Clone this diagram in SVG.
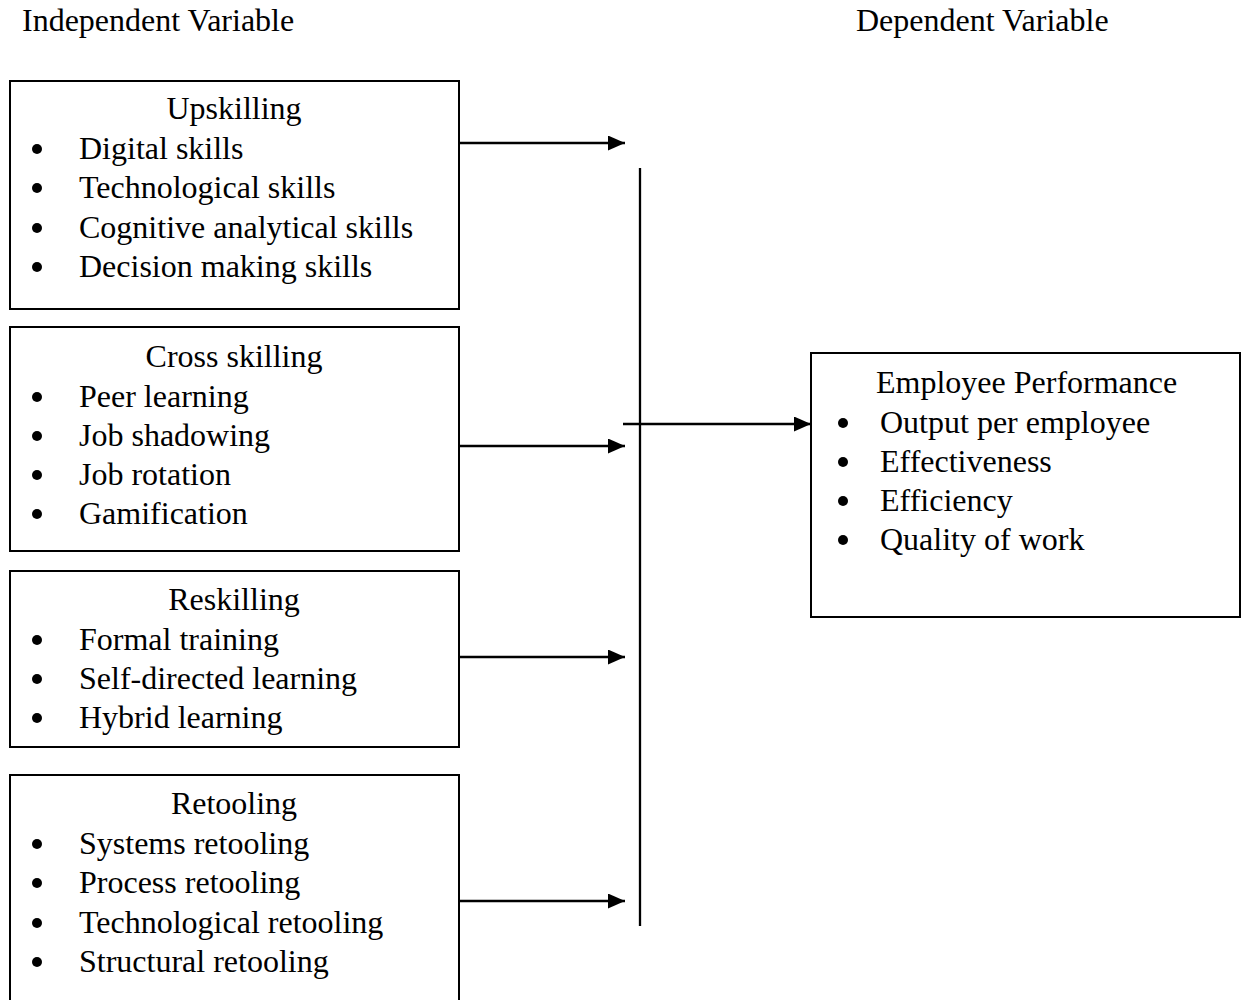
<svg xmlns="http://www.w3.org/2000/svg" width="1247" height="1000" viewBox="0 0 1247 1000">
<defs>
<style>
text{font-family:"Liberation Serif","Times New Roman",serif;font-size:32px;fill:#000}
.t{text-anchor:middle}
.box{fill:#fff;stroke:#000;stroke-width:2}
.ln{stroke:#000;stroke-width:2.3;fill:none}
</style>
<marker id="ah" markerWidth="17" markerHeight="15" refX="17" refY="7.5" orient="auto" markerUnits="userSpaceOnUse">
<path d="M0,0 L17,7.5 L0,15 Z" fill="#000"/>
</marker>
</defs>
<rect width="1247" height="1000" fill="#fff"/>
<text x="22" y="31">Independent Variable</text>
<text x="856" y="31">Dependent Variable</text>
<g id="upskilling">
<rect class="box" x="10" y="81" width="449" height="228"/>
<text class="t" x="234" y="119">Upskilling</text>
<circle cx="37" cy="149" r="5"/><text x="79" y="159">Digital skills</text>
<circle cx="37" cy="188" r="5"/><text x="79" y="198">Technological skills</text>
<circle cx="37" cy="228" r="5"/><text x="79" y="238">Cognitive analytical skills</text>
<circle cx="37" cy="267" r="5"/><text x="79" y="277">Decision making skills</text>
</g>
<g id="crossskilling">
<rect class="box" x="10" y="327" width="449" height="224"/>
<text class="t" x="234" y="367">Cross skilling</text>
<circle cx="37" cy="397" r="5"/><text x="79" y="407">Peer learning</text>
<circle cx="37" cy="436" r="5"/><text x="79" y="446">Job shadowing</text>
<circle cx="37" cy="475" r="5"/><text x="79" y="485">Job rotation</text>
<circle cx="37" cy="514" r="5"/><text x="79" y="524">Gamification</text>
</g>
<g id="reskilling">
<rect class="box" x="10" y="571" width="449" height="176"/>
<text class="t" x="234" y="610">Reskilling</text>
<circle cx="37" cy="640" r="5"/><text x="79" y="650">Formal training</text>
<circle cx="37" cy="679" r="5"/><text x="79" y="689">Self-directed learning</text>
<circle cx="37" cy="718" r="5"/><text x="79" y="728">Hybrid learning</text>
</g>
<g id="retooling">
<rect class="box" x="10" y="775" width="449" height="240"/>
<text class="t" x="234" y="814">Retooling</text>
<circle cx="37" cy="844" r="5"/><text x="79" y="854">Systems retooling</text>
<circle cx="37" cy="883" r="5"/><text x="79" y="893">Process retooling</text>
<circle cx="37" cy="923" r="5"/><text x="79" y="933">Technological retooling</text>
<circle cx="37" cy="962" r="5"/><text x="79" y="972">Structural retooling</text>
</g>
<g id="performance">
<rect class="box" x="811" y="353" width="429" height="264"/>
<text x="876" y="393">Employee Performance</text>
<circle cx="843" cy="423" r="5"/><text x="880" y="433">Output per employee</text>
<circle cx="843" cy="462" r="5"/><text x="880" y="472">Effectiveness</text>
<circle cx="843" cy="501" r="5"/><text x="880" y="511">Efficiency</text>
<circle cx="843" cy="540" r="5"/><text x="880" y="550">Quality of work</text>
</g>
<g id="connectors">
<line class="ln" x1="640" y1="168" x2="640" y2="926"/>
<line class="ln" x1="459" y1="143" x2="625" y2="143" marker-end="url(#ah)"/>
<line class="ln" x1="459" y1="446" x2="625" y2="446" marker-end="url(#ah)"/>
<line class="ln" x1="459" y1="657" x2="625" y2="657" marker-end="url(#ah)"/>
<line class="ln" x1="459" y1="901" x2="625" y2="901" marker-end="url(#ah)"/>
<line class="ln" x1="623" y1="424" x2="811" y2="424" marker-end="url(#ah)"/>
</g>
</svg>
